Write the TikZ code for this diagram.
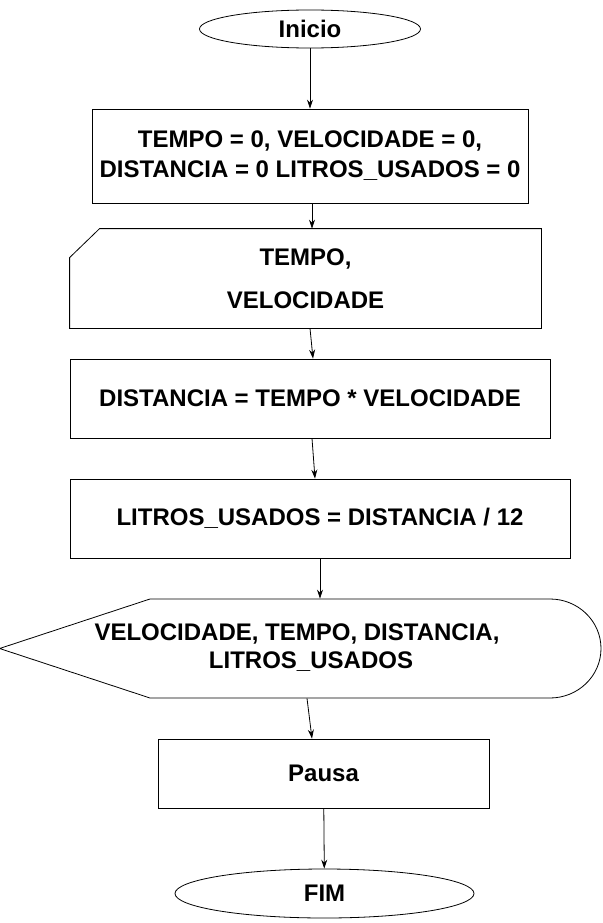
\documentclass[tikz,border=0pt]{standalone}
\usepackage{fontspec}
\setmainfont{Liberation Sans}
\usepackage{tikz}
\usetikzlibrary{shapes.geometric, arrows.meta, positioning, calc}

\begin{document}
\begin{tikzpicture}[x=1pt, y=-1pt, line width=0.8pt, >={Stealth[length=9pt,width=6pt]},
  every node/.style={font=\fontsize{24}{30}\selectfont\bfseries, align=center},
  proc/.style={draw, rectangle, inner sep=0pt},
  term/.style={draw, ellipse, inner sep=0pt}]
\useasboundingbox (0,0) rectangle (602,923);
% Start and init
\node[term, minimum width=221pt, minimum height=38pt] (inicio) at (310,29) {Inicio};
\node[proc, minimum width=436pt, minimum height=94pt] (init) at (310,156)
  {TEMPO = 0, VELOCIDADE = 0,\\DISTANCIA = 0 LITROS\_USADOS = 0};

% Manual input
\node[inner sep=0pt, minimum width=471pt, minimum height=99pt] (read) at (305.5,278.5)
  {TEMPO,\\[13pt]VELOCIDADE};
\draw (read.south west) -- (read.south east) -- (read.north east)
  -- ([xshift=30pt]read.north west) -- ([yshift=-29pt]read.north west) -- cycle;

% Processing
\node[proc, minimum width=480pt, minimum height=79pt] (dist) at (310,398.5)
  {DISTANCIA = TEMPO * VELOCIDADE};
\node[proc, minimum width=500pt, minimum height=79pt] (litros) at (320,518.5)
  {LITROS\_USADOS = DISTANCIA / 12};

% Display
\node[inner sep=0pt, minimum width=601pt, minimum height=99pt] (show) at (300.5,648.5) {};
\node at (297,648) {VELOCIDADE, TEMPO, DISTANCIA,\\[-2pt]\hspace*{28pt}LITROS\_USADOS};
\draw (150,599) -- (550,599) .. controls (578,599) and (601,621) .. (601,648.5)
  .. controls (601,676) and (578,698) .. (550,698) -- (150,698) -- (show.west) -- cycle;

% End
\node[proc, minimum width=331pt, minimum height=69pt] (pausa) at (323.5,773.5) {Pausa};
\node[term, minimum width=299pt, minimum height=49pt] (fim) at (324.5,893.5) {FIM};

\draw[->] (inicio) -- (init);
\draw[->] ([xshift=2pt]init.south) -- ([xshift=6.5pt]read.north);
\draw[->] ([xshift=4.5pt]read.south) -- ([xshift=3pt]dist.north);
\draw[->] ([xshift=2pt]dist.south) -- ([xshift=-5pt]litros.north);
\draw[->] (litros.south) -- ([xshift=19.5pt]show.north);
\draw[->] ([xshift=6.5pt]show.south) -- ([xshift=-11.5pt]pausa.north);
\draw[->] (pausa) -- (fim);
\end{tikzpicture}
\end{document}
